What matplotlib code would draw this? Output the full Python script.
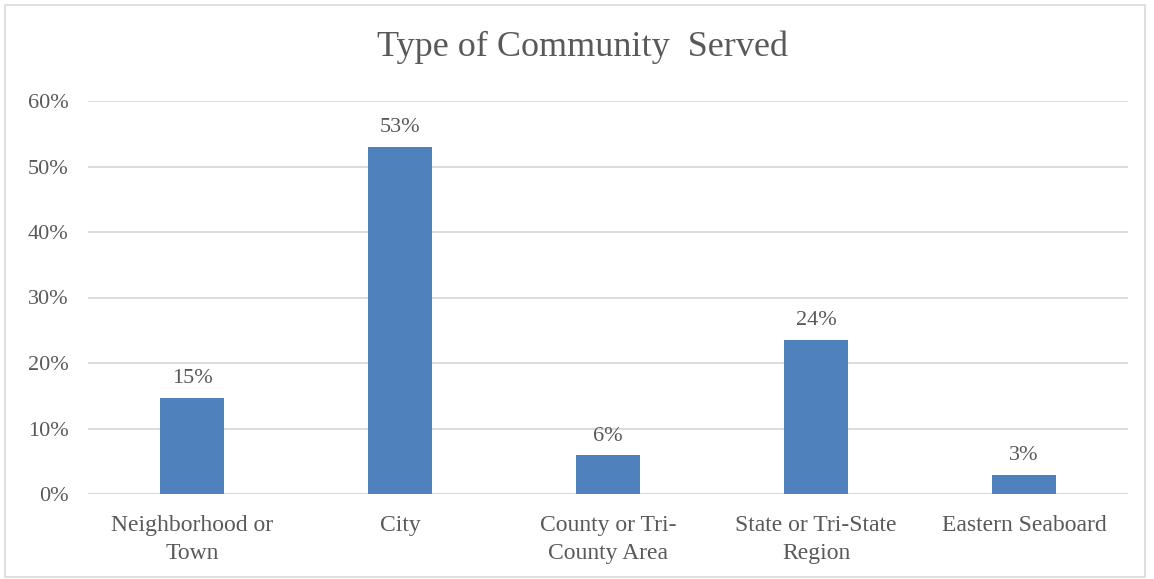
import matplotlib.pyplot as plt
from matplotlib.patches import Rectangle

plt.rcParams['font.family'] = ['Liberation Serif', 'DejaVu Serif']

# data
categories = ['Neighborhood or\nTown', 'City', 'County or Tri-\nCounty Area',
              'State or Tri-State\nRegion', 'Eastern Seaboard']
values = [14.7, 53.0, 5.9, 23.5, 2.9]
labels = ['15%', '53%', '6%', '24%', '3%']
yticks = [0, 10, 20, 30, 40, 50, 60]
ytick_labels = ['0%', '10%', '20%', '30%', '40%', '50%', '60%']

text_color = '#595959'
bar_color = '#4F81BD'

fig = plt.figure(figsize=(11.54, 5.79), dpi=100)
ax = fig.add_axes([88/1154, 1 - 494/579, 1040/1154, 393/579])

x = range(len(categories))
bars = ax.bar(x, values, width=0.31, color=bar_color, zorder=3)

for b, lab in zip(bars, labels):
    ax.annotate(lab, (b.get_x() + b.get_width()/2, b.get_height()),
                xytext=(0, 7), textcoords='offset points',
                ha='center', va='bottom', fontsize=16, color=text_color)

ax.set_ylim(0, 60)
ax.set_xlim(-0.5, len(categories) - 0.5)
ax.set_yticks(yticks)
ax.set_yticklabels(ytick_labels, fontsize=16, color=text_color)
ax.set_xticks(list(x))
ax.set_xticklabels(categories, fontsize=17, color=text_color, linespacing=1.45)
ax.tick_params(axis='both', length=0)
ax.tick_params(axis='y', pad=14)
ax.tick_params(axis='x', pad=15)
ax.grid(axis='y', color='#d9d9d9', linewidth=1.3, zorder=0)
for s in ax.spines.values():
    s.set_visible(False)
ax.axhline(0, color='#d9d9d9', linewidth=1.3, zorder=2)

fig.text(0.505, 1 - 47/579, 'Type of Community  Served', ha='center', va='center',
         fontsize=26, color=text_color)

# outer chart border
fig.patches.append(Rectangle((5/1154, 2/579), 1140/1154, 572/579, transform=fig.transFigure,
                             fill=False, edgecolor='#d9d9d9', linewidth=1.2))

fig.savefig('out.png', dpi=100)
